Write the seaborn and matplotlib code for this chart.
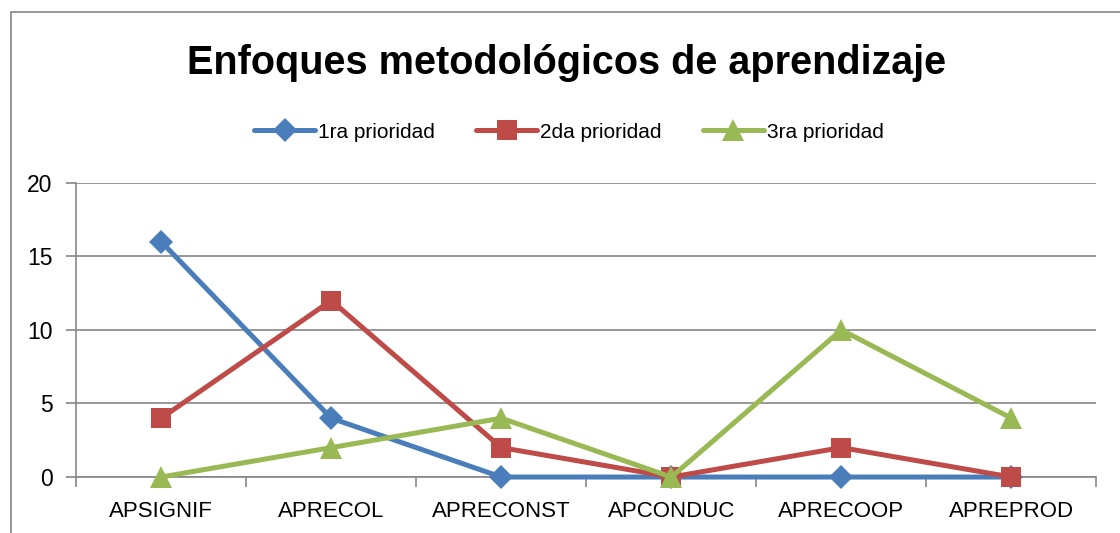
import pandas as pd
import matplotlib
matplotlib.use("Agg")
import matplotlib.pyplot as plt
import matplotlib.patches as patches
import seaborn as sns

# ---------------- DATA ----------------
categorias = ["APSIGNIF", "APRECOL", "APRECONST", "APCONDUC", "APRECOOP", "APREPROD"]
prioridad_1 = [16, 4, 0, 0, 0, 0]
prioridad_2 = [4, 12, 2, 0, 2, 0]
prioridad_3 = [0, 2, 4, 0, 10, 4]
series = ["1ra prioridad", "2da prioridad", "3ra prioridad"]
y_ticks = [0, 5, 10, 15, 20]

df = pd.DataFrame({
    "categoria": categorias * 3,
    "valor": prioridad_1 + prioridad_2 + prioridad_3,
    "serie": [s for s in series for _ in categorias],
})

# ---------------- STYLE ----------------
sns.set_style("white")
plt.rcParams["font.family"] = ["Liberation Sans", "DejaVu Sans"]
plt.rcParams["text.color"] = "black"
gris = "#868686"
colores = {"1ra prioridad": "#4A7EBB", "2da prioridad": "#BE4B48", "3ra prioridad": "#98B954"}
marcadores = {"1ra prioridad": "D", "2da prioridad": "s", "3ra prioridad": "^"}
tamanos = {"1ra prioridad": 12, "2da prioridad": 14, "3ra prioridad": 16}

fig = plt.figure(figsize=(11.2, 5.33), dpi=100)
ax = fig.add_axes([0.068, 0.105, 0.911, 0.552])

for s in series:
    sns.lineplot(data=df[df["serie"] == s], x="categoria", y="valor", sort=False,
                 color=colores[s], marker=marcadores[s], markersize=tamanos[s],
                 markeredgewidth=0, linewidth=3.6, label=s, ax=ax, zorder=3,
                 clip_on=False)

ax.set_xlim(-0.5, len(categorias) - 0.5)
ax.set_ylim(0, 20)
ax.set_yticks(y_ticks)
ax.set_xlabel("")
ax.set_ylabel("")
ax.grid(axis="y", color=gris, linewidth=1.2)
ax.set_axisbelow(True)
for lado in ["top", "right"]:
    ax.spines[lado].set_visible(False)
ax.spines["left"].set_color(gris)
ax.spines["bottom"].set_color(gris)
ax.spines["left"].set_linewidth(1.2)
ax.spines["bottom"].set_linewidth(1.2)

ax.tick_params(axis="y", which="major", left=True, length=7, color=gris, width=1.2,
               labelsize=16.5, pad=10, labelcolor="black")
ax.tick_params(axis="x", which="major", bottom=False, labelsize=16, pad=14, labelcolor="black")
ax.set_xticks([i + 0.5 for i in range(-1, len(categorias))], minor=True)
ax.tick_params(axis="x", which="minor", bottom=True, length=7, color=gris, width=1.2)

ax.legend(loc="center", bbox_to_anchor=(0.508, 0.752), bbox_transform=fig.transFigure,
          ncol=3, frameon=False, fontsize=15, handlelength=2.9, columnspacing=2.0,
          handletextpad=0.15)

fig.text(0.506, 0.882, "Enfoques metodológicos de aprendizaje", ha="center", va="center",
         fontsize=28.5, fontweight="bold")

# marco del gráfico
fig.patches.append(patches.Rectangle((11 / 1120, -0.2), 1.5, 1.2 - 13 / 533 + 0.002,
                                     transform=fig.transFigure, fill=False,
                                     edgecolor=gris, linewidth=1.2))

fig.savefig("out.png", dpi=100)
